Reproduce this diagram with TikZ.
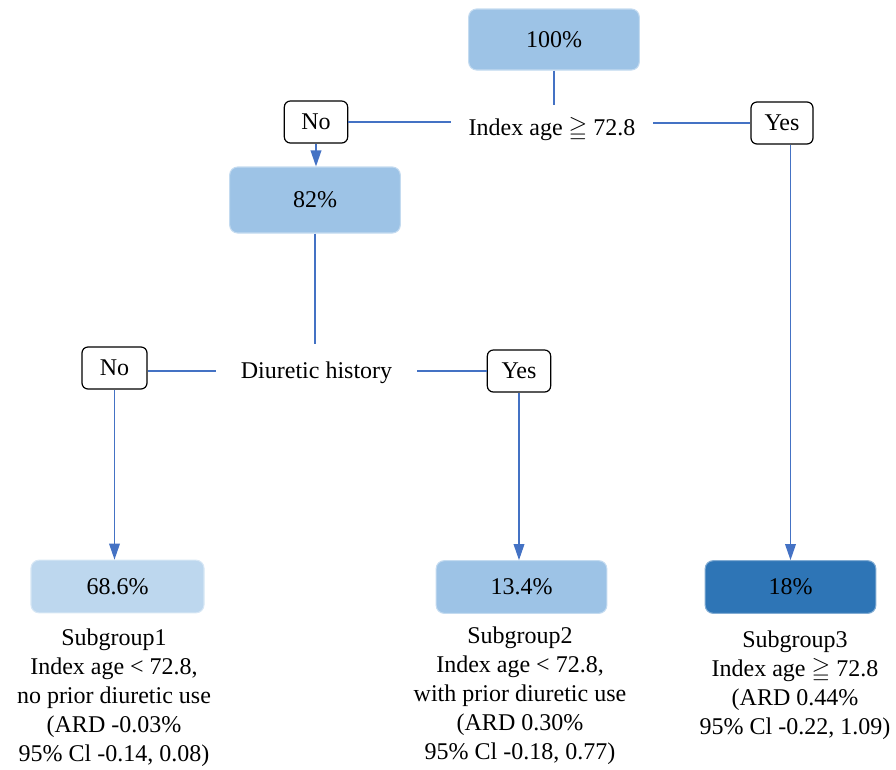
\documentclass[tikz,border=0pt]{standalone}
\usepackage{amssymb}
\usepackage{fontspec}
\setmainfont{Liberation Serif}
\usetikzlibrary{arrows.meta}
\definecolor{nodemid}{HTML}{9DC3E6}
\definecolor{nodelight}{HTML}{BDD7EE}
\definecolor{nodedark}{HTML}{2E75B6}
\definecolor{linkblue}{HTML}{4472C4}
\begin{document}
\begin{tikzpicture}[x=0.75pt,y=-0.75pt,
  font=\fontsize{18}{21.75}\selectfont,
  share/.style={rounded corners=6pt, inner sep=0pt, line width=0.8pt,
    minimum width=128pt, minimum height=39.5pt},
  answer/.style={draw=black, fill=white, rounded corners=4.5pt, line width=0.9pt,
    inner sep=0pt, minimum width=47.5pt, minimum height=31.5pt},
  splitlabel/.style={inner ysep=9pt},
  outcome/.style={align=center, inner sep=0pt},
  link/.style={draw=linkblue, line width=1pt},
  arrowlink/.style={link, -{Triangle[width=8pt,length=12pt]}}
]
\useasboundingbox (0,0) rectangle (896,769);

% percentage boxes
\node[share, fill=nodemid, draw=nodemid!60!white, minimum height=45.75pt] (top) at (554,39.5) {100\%};
\node[share, fill=nodemid, draw=nodemid!60!white, minimum height=49.5pt] (mid) at (315,200) {82\%};
\node[share, fill=nodelight, draw=nodelight!60!white, minimum width=129.75pt] (leafA) at (117.5,586.5) {68.6\%};
\node[share, fill=nodemid, draw=nodemid!60!white] (leafB) at (521.5,587) {13.4\%};
\node[share, fill=nodedark, draw=nodedark!60!white] (leafC) at (790.5,587) {18\%};

% split criteria
\node[splitlabel, inner xsep=13pt] (splitA) at (552,129) {Index age $\geqq$ 72.8};
\node[splitlabel, inner xsep=18.75pt, inner ysep=13.25pt] (splitB) at (316.5,373) {Diuretic history};

% branch answers
\node[answer] (noA) at (316,122) {No};
\node[answer, minimum width=46.5pt] (yesA) at (782,123) {Yes};
\node[answer, minimum width=48.75pt] (noB) at (114.5,368) {No};
\node[answer] (yesB) at (519,371) {Yes};

% connectors
\draw[link] (top.south) -- (top.south |- splitA.north);
\draw[link] (noA.east) -- (noA.east -| splitA.west);
\draw[link] (yesA.west) -- (yesA.west -| splitA.east);
\draw[arrowlink] (noA.south) -- (noA.south |- mid.north);
\draw[arrowlink] (leafC.north |- yesA.south) -- (leafC.north);
\draw[link] (mid.south) -- (mid.south |- splitB.north);
\draw[link] (yesB.west -| splitB.west) -- (yesB.west -| noB.east);
\draw[link] (yesB.west -| splitB.east) -- (yesB.west);
\draw[arrowlink] (noB.south) -- (noB.south |- leafA.north);
\draw[arrowlink] (yesB.south) -- (yesB.south |- leafB.north);

% subgroup descriptions
\node[outcome] (descA) at (114,698) {Subgroup1\\Index age < 72.8,\\no prior diuretic use\\(ARD -0.03\%\\95\% Cl -0.14, 0.08)};
\node[outcome] (descB) at (520,696) {Subgroup2\\Index age < 72.8,\\with prior diuretic use\\(ARD 0.30\%\\95\% Cl -0.18, 0.77)};
\node[outcome] (descC) at (795,685) {Subgroup3\\Index age $\geqq$ 72.8\\(ARD 0.44\%\\95\% Cl -0.22, 1.09)};
\end{tikzpicture}
\end{document}
